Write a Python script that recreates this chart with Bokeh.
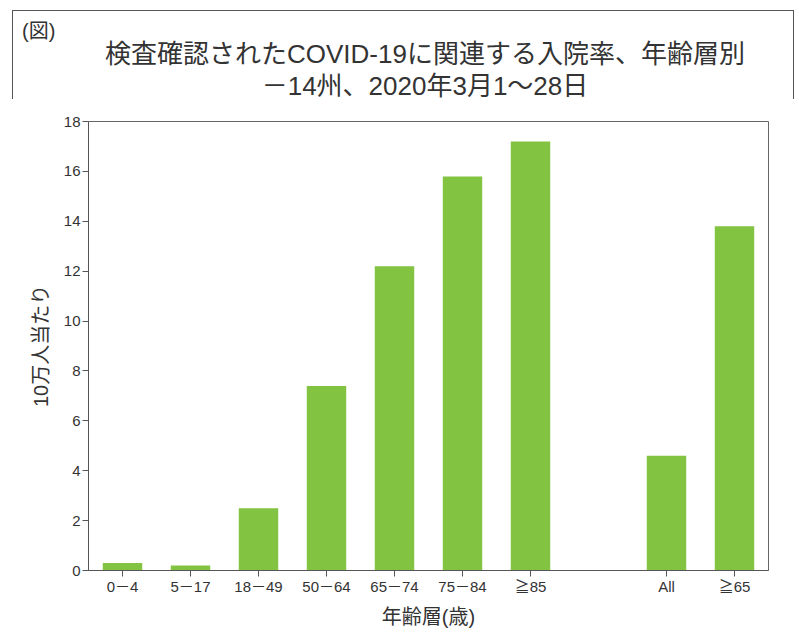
from bokeh.plotting import figure
from bokeh.models import FixedTicker, Range1d, Div
from bokeh.layouts import column
from bokeh.embed import file_html
from bokeh.resources import INLINE

# ---- data ----
categories = ["0－4", "5－17", "18－49", "50－64", "65－74", "75－84", "≧85", "All", "≧65"]
rates = [0.3, 0.2, 2.5, 7.4, 12.2, 15.8, 17.2, 4.6, 13.8]
gap_after = 6          # a blank slot follows this category index
y_ticks = [0, 2, 4, 6, 8, 10, 12, 14, 16, 18]
title_line1 = "検査確認されたCOVID-19に関連する入院率、年齢層別"
title_line2 = "－14州、2020年3月1〜28日"
fig_tag = "(図)"
y_label = "10万人当たり"
x_label = "年齢層(歳)"

xs = [i + (1 if i > gap_after else 0) for i in range(len(categories))]
n_slots = len(categories) + 1

FONT = "'Liberation Sans', 'Noto Sans CJK JP', sans-serif"
TXT = "#333333"
BORDER = "#555555"

FW, FH = 680, 449
ML, MR, MT, MB = 88, 28, 21, 72
HEAD = 100
W = ML + FW + MR
BL, BT = 12, 10          # outer frame offsets (left, top)

p = figure(
    frame_width=FW, frame_height=FH,
    x_range=Range1d(-0.5, n_slots - 0.5), y_range=Range1d(y_ticks[0], y_ticks[-1]),
    output_backend="svg", toolbar_location=None, title=None,
    min_border_left=ML, min_border_right=MR, min_border_bottom=MB, min_border_top=MT,
)

p.vbar(x=xs, top=rates, width=0.58, color="#82C341", line_color=None)

p.xgrid.visible = False
p.ygrid.visible = False
p.outline_line_color = "#666666"
p.outline_line_width = 1

p.xaxis.ticker = FixedTicker(ticks=xs)
p.xaxis.major_label_overrides = {x: c for x, c in zip(xs, categories)}
p.yaxis.ticker = FixedTicker(ticks=y_ticks)

for ax in (p.xaxis[0], p.yaxis[0]):
    ax.axis_line_color = "#555555"
    ax.major_tick_line_color = "#555555"
    ax.major_tick_out = 6
    ax.major_tick_in = 0
    ax.minor_tick_line_color = None
    ax.major_label_text_font = FONT
    ax.major_label_text_font_size = "15px"
    ax.major_label_text_color = TXT
    ax.axis_label_text_font = FONT
    ax.axis_label_text_font_size = "20px"
    ax.axis_label_text_font_style = "normal"
    ax.axis_label_text_color = TXT

p.xaxis.axis_label = x_label
p.yaxis.axis_label = y_label
p.xaxis.major_label_standoff = 1
p.yaxis.major_label_standoff = 2
p.xaxis.axis_label_standoff = 8
p.yaxis.axis_label_standoff = 9

head_html = (
    f'<div style="position:relative;width:{W}px;height:{HEAD}px;'
    f'font-family:{FONT};color:{TXT};">'
    f'<div style="position:absolute;left:{BL}px;top:{BT}px;width:{W - BL - 2}px;'
    f'height:{HEAD - BT - 1}px;border:1px solid {BORDER};border-bottom:none;"></div>'
    f'<span style="position:absolute;left:22px;top:19px;font-size:20px;line-height:24px;">{fig_tag}</span>'
    f'<div style="position:absolute;left:45px;width:760px;top:38px;font-size:26px;'
    f'line-height:32px;text-align:center;white-space:nowrap;">{title_line1}<br>{title_line2}</div>'
    f'</div>'
)
head = Div(text=head_html, width=W, height=HEAD, margin=(0, 0, 0, 0))
p.margin = (0, 0, 0, 0)

layout = column(head, p, spacing=0)

open("out.html", "w").write(file_html(layout, INLINE))
